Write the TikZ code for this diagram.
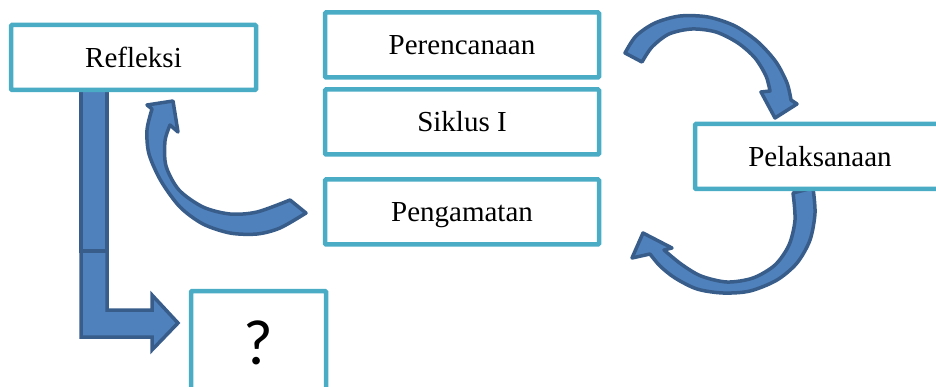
\documentclass[tikz,border=0pt]{standalone}
\usepackage{fontspec}
\setmainfont{Liberation Serif}
\newfontfamily\qfont{Carlito}
\usetikzlibrary{positioning}
\definecolor{boxline}{HTML}{4BACC6}
\definecolor{arrowfill}{HTML}{4F81BD}
\definecolor{arrowline}{HTML}{385D8A}

\begin{document}
\begin{tikzpicture}[x=1pt, y=-1pt,
    framebox/.style={draw=boxline, line width=4.5pt, fill=white, rounded corners=1pt},
    stage/.style={framebox, minimum height=65pt, text height=19.5pt, text depth=0pt, font=\fontsize{29}{34}\selectfont},
    blockarrow/.style={fill=arrowfill, draw=arrowline, line width=3.5pt, line join=round}]
  \clip (0,0) rectangle (936,387);

  \filldraw[blockarrow] plot[smooth] coordinates {(625,53) (636,36) (655,23) (680,16) (708,17) (735,26) (758,42) (776,62) (787,83) (791,100)}
    -- (797,104) -- (775,118) -- (761,92)
    -- plot[smooth] coordinates {(770,91) (766,76) (755,58) (738,43) (716,32) (692,29) (669,34) (652,47) (642,62)} -- cycle;
  \filldraw[blockarrow] plot[smooth] coordinates {(813,188) (815,213) (810,240) (797,263) (777,280) (750,291) (723,293) (697,289) (675,278) (660,266) (650,254)}
    -- (632,258) -- (643,233) -- (672,248)
    -- plot[smooth] coordinates {(664,250) (681,264) (701,276) (727,282) (753,278) (775,265) (789,245) (795,220) (793,193)} -- cycle;
  \filldraw[blockarrow] plot[smooth] coordinates {(306,213) (280,228) (257,234) (230,233) (203,224) (180,207) (161,181) (149,154) (147,130) (152,109)}
    -- (147,105) -- (173,101) -- (178,132)
    -- plot[smooth] coordinates {(170,125) (165,141) (166,166) (179,190) (203,207) (230,214) (257,212) (290,200)} -- cycle;

  \filldraw[blockarrow, line join=miter] (81,89) rectangle (107,251);
  \filldraw[blockarrow, line join=miter] (81,251) -- (107,251) -- (107,310) -- (152,310) -- (152,295) -- (178,323) -- (152,350) -- (152,337) -- (81,337) -- cycle;

  \node[stage, minimum width=245pt] (refleksi) at (133.5,57.5) {Refleksi};
  \node[stage, minimum width=274pt] (perencanaan) at (462,45) {Perencanaan};
  \node[stage, minimum width=274pt] (siklus) at (462,122) {Siklus I};
  \node[stage, minimum width=274pt] (pengamatan) at (462,212) {Pengamatan};
  \node[stage, minimum width=250pt] (pelaksanaan) at (820,156.5) {Pelaksanaan};
  \node[framebox, minimum width=135pt, minimum height=104pt, font=\qfont\fontsize{64}{70}\selectfont] (hasil) at (258.5,343) {?};
\end{tikzpicture}
\end{document}
